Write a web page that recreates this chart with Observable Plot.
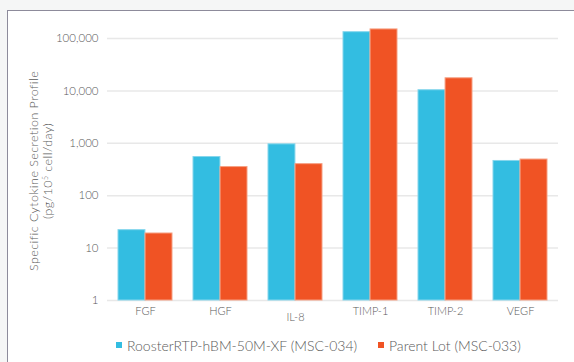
<!DOCTYPE html>
<html><head><meta charset="utf-8">
<script src="https://cdn.jsdelivr.net/npm/d3@7"></script>
<script src="https://cdn.jsdelivr.net/npm/@observablehq/plot@0.6"></script>
<style>
html,body{margin:0;padding:0;width:574px;height:362px;overflow:hidden;background:#f5f6f6;font-family:Lato,sans-serif;}
#frame{position:absolute;left:7px;top:10px;width:620px;height:400px;background:#fff;border-top:1.5px solid #8d8b9b;border-left:1.5px solid #8d8b9b;}
#chart{position:absolute;left:0;top:0;}
#ytitle{position:absolute;left:39.5px;top:171px;transform:translate(-50%,-50%) rotate(-90deg);text-align:center;font-size:12.5px;letter-spacing:0.45px;line-height:13.5px;color:#5a5a5a;white-space:nowrap;font-weight:300;}
#ytitle sup{font-size:7px;line-height:0;vertical-align:4px;}
.leg{position:absolute;top:337px;font-size:14px;color:#5a5a5a;white-space:nowrap;display:flex;align-items:center;height:16px;font-weight:300;}
.sw{display:inline-block;width:6px;height:6px;margin-right:5px;}
svg text{font-weight:300;}
</style></head>
<body>
<div id="frame"></div>
<div id="chart"></div>
<div id="ytitle">Specific Cytokine Secretion Profile<br>(pg/10<sup>5</sup> cell/day)</div>
<div id="legend"></div>
<script>
const categories = ["FGF", "HGF", "IL-8", "TIMP-1", "TIMP-2", "VEGF"];
const seriesNames = ["RoosterRTP-hBM-50M-XF (MSC-034)", "Parent Lot (MSC-033)"];
const rooster = [22, 547, 955, 132000, 10300, 460];
const parent = [19, 352, 400, 149000, 17400, 490];
const yTicks = [1, 10, 100, 1000, 10000, 100000];
const colors = ["#33bde1", "#f05324"];
const strokes = ["#86d6ec", "#f6a083"];

const data = categories.flatMap((c, i) => [
  {category: c, series: seriesNames[0], value: rooster[i]},
  {category: c, series: seriesNames[1], value: parent[i]}
]);

const W = 574, H = 330, mL = 107, mR = 16;
const pIn = 0.28, pOut = 0.14;
const step = (W - mL - mR) / (categories.length - pIn + 2 * pOut);
const half = step * (1 - pIn) / 2;

const fmt = d3.format(",");
const plot = Plot.plot({
  width: W, height: H,
  marginLeft: mL, marginRight: mR, marginTop: 38, marginBottom: 30,
  style: {background: "transparent", fontFamily: "Lato, sans-serif", fontSize: "11.5px", color: "#5a5a5a"},
  x: {domain: categories, paddingInner: pIn, paddingOuter: pOut, axis: null},
  y: {type: "log", domain: [1, 100000], ticks: yTicks, tickFormat: fmt, tickSize: 0, tickPadding: 9, label: null},
  marks: [
    Plot.ruleY(yTicks, {y: d => d, stroke: "#e8e8e8", strokeWidth: 1.5}),
    Plot.barY(data.filter(d => d.series === seriesNames[0]), {x: "category", y1: () => 1, y2: "value", fill: colors[0], stroke: strokes[0], strokeWidth: 1, insetRight: half}),
    Plot.barY(data.filter(d => d.series === seriesNames[1]), {x: "category", y1: () => 1, y2: "value", fill: colors[1], stroke: strokes[1], strokeWidth: 1, insetLeft: half}),
    Plot.text(categories.filter(c => c !== "IL-8"), {x: d => d, y: () => 1, dy: 11, text: d => d, fontSize: 11, fill: "#5a5a5a"}),
    Plot.text(categories.filter(c => c === "IL-8"), {x: d => d, y: () => 1, dy: 17, text: d => d, fontSize: 11, fill: "#5a5a5a"})
  ]
});
document.getElementById("chart").appendChild(plot);

const legend = document.getElementById("legend");
const legLeft = [116, 378];
seriesNames.forEach((s, i) => {
  const el = document.createElement("div");
  el.className = "leg";
  el.style.left = legLeft[i] + "px";
  el.innerHTML = `<span class="sw" style="background:${colors[i]}"></span>${s}`;
  legend.appendChild(el);
});
</script>
</body></html>
